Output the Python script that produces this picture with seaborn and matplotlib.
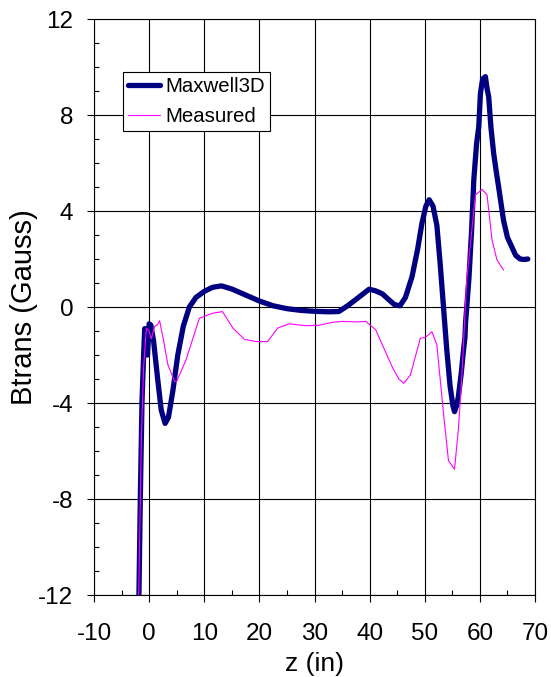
import matplotlib
matplotlib.use('Agg')
import matplotlib.pyplot as plt
import numpy as np
import pandas as pd
import seaborn as sns
from matplotlib.ticker import MultipleLocator

# Maxwell3D simulation (z in inches, Btrans in Gauss)
maxwell_z = [-1.85, -1.6, -1.3, -1.0, -0.8, -0.5, -0.3, 0.0, 0.3, 0.8, 1.5, 2.2, 2.9,
             3.5, 4.3, 5.2, 6.2, 7.3, 8.5, 10.0, 11.5, 13.1, 15.0, 17.5, 20.0, 22.5,
             25.0, 27.5, 30.0, 32.5, 34.4, 36.0, 38.0, 39.9, 41.0, 42.3, 43.5, 44.5,
             45.5, 46.5, 47.7, 48.7, 49.5, 50.2, 50.8, 51.5, 52.2, 52.8, 53.4, 54.0,
             54.6, 55.1, 55.4, 55.8, 56.1, 56.6, 57.1, 57.3, 57.4, 58.0, 58.5, 58.9,
             59.4, 59.8, 60.1, 60.5, 61.0, 61.3, 61.6, 62.0, 62.5, 63.0, 63.4, 64.3,
             65.0, 65.8, 66.5, 67.3, 68.0, 68.7]
maxwell_b = [-12.0, -8.0, -4.0, -2.0, -0.9, -1.2, -2.0, -0.7, -0.75, -1.4, -2.9, -4.3, -4.85,
             -4.6, -3.5, -2.0, -0.8, 0.0, 0.4, 0.65, 0.82, 0.88, 0.75, 0.5, 0.25, 0.05,
             -0.07, -0.14, -0.18, -0.2, -0.19, 0.05, 0.4, 0.74, 0.68, 0.55, 0.3, 0.1,
             0.05, 0.4, 1.27, 2.4, 3.5, 4.2, 4.47, 4.2, 3.4, 1.8, 0.0, -1.8,
             -3.3, -4.1, -4.36, -4.1, -3.73, -2.8, -1.65, -1.25, -0.67, 1.14, 3.2, 5.3,
             6.8, 7.5, 8.9, 9.5, 9.6, 9.1, 8.76, 7.5, 6.4, 5.6, 5.0, 3.6,
             2.9, 2.5, 2.15, 2.0, 1.98, 2.0]

# Measured data
measured_z = [-1.9, -1.6, -1.4, -1.0, -0.5, 0.0, 0.4, 1.0, 1.5, 1.9, 2.6, 3.4, 4.6, 5.0,
              6.7, 9.1, 11.5, 13.3, 15.2, 17.3, 19.4, 21.5, 23.3, 25.4, 28.4, 30.8,
              33.2, 35.0, 37.5, 39.3, 41.1, 44.1, 45.3, 46.2, 47.4, 49.2, 50.1, 51.3,
              52.2, 53.4, 54.3, 55.4, 56.1, 56.7, 57.6, 59.2, 60.4, 61.3, 62.2, 63.1, 64.3]
measured_b = [-12.0, -8.0, -5.4, -2.5, -0.89, -1.0, -1.33, -0.8, -0.75, -0.57, -1.37, -2.4, -3.1, -3.1,
              -2.2, -0.47, -0.26, -0.19, -0.88, -1.35, -1.44, -1.44, -0.88, -0.7, -0.78, -0.76,
              -0.64, -0.6, -0.62, -0.6, -0.95, -2.5, -3.0, -3.18, -2.83, -1.3, -1.27, -1.03,
              -1.58, -4.43, -6.4, -6.76, -5.1, -3.0, 1.1, 4.67, 4.9, 4.67, 2.8, 1.96, 1.54]

df = pd.concat([
    pd.DataFrame({'z': maxwell_z, 'B': maxwell_b, 'series': 'Maxwell3D'}),
    pd.DataFrame({'z': measured_z, 'B': measured_b, 'series': 'Measured'}),
], ignore_index=True)

sns.set_style('white')
plt.rcParams['font.family'] = ['Liberation Sans', 'DejaVu Sans']
plt.rcParams['axes.unicode_minus'] = False
for k in ['text.color', 'axes.labelcolor', 'xtick.color', 'ytick.color']:
    plt.rcParams[k] = 'black'

fig = plt.figure(figsize=(5.51, 6.77), dpi=100)
ax = fig.add_axes([94 / 551, 1 - 595 / 677, 441 / 551, 576 / 677])

sns.lineplot(data=df, x='z', y='B', hue='series', size='series',
             palette={'Maxwell3D': '#000080', 'Measured': '#FF00FF'},
             sizes={'Maxwell3D': 3.8, 'Measured': 0.8},
             estimator=None, sort=False, ax=ax, zorder=3)

ax.set_xlim(-10, 70)
ax.set_ylim(-12, 12)
ax.xaxis.set_major_locator(MultipleLocator(10))
ax.xaxis.set_minor_locator(MultipleLocator(5))
ax.yaxis.set_major_locator(MultipleLocator(4))
ax.yaxis.set_minor_locator(MultipleLocator(1))
ax.grid(True, which='major', color='black', linewidth=0.8)
ax.tick_params(which='major', direction='out', length=5, width=0.8, color='black',
               labelsize=17.5, left=True, bottom=True)
ax.tick_params(axis='x', which='major', pad=15)
ax.tick_params(axis='y', which='major', pad=10)
ax.tick_params(which='minor', direction='in', length=3.5, width=0.8, color='black',
               left=True, bottom=True)
for s in ax.spines.values():
    s.set_color('black')
    s.set_linewidth(0.8)

ax.set_xlabel('z (in)', fontsize=19, labelpad=5.5)
ax.set_ylabel('Btrans (Gauss)', fontsize=21, labelpad=0)

leg = ax.legend(loc='upper left', bbox_to_anchor=(0.065, 0.9085), fontsize=14.7,
                frameon=True, fancybox=False, edgecolor='black', framealpha=1,
                handlelength=1.6, borderpad=0.25, labelspacing=0.55, handletextpad=0.26,
                borderaxespad=0)
leg.get_frame().set_linewidth(0.8)

fig.savefig('out.png', dpi=100)
